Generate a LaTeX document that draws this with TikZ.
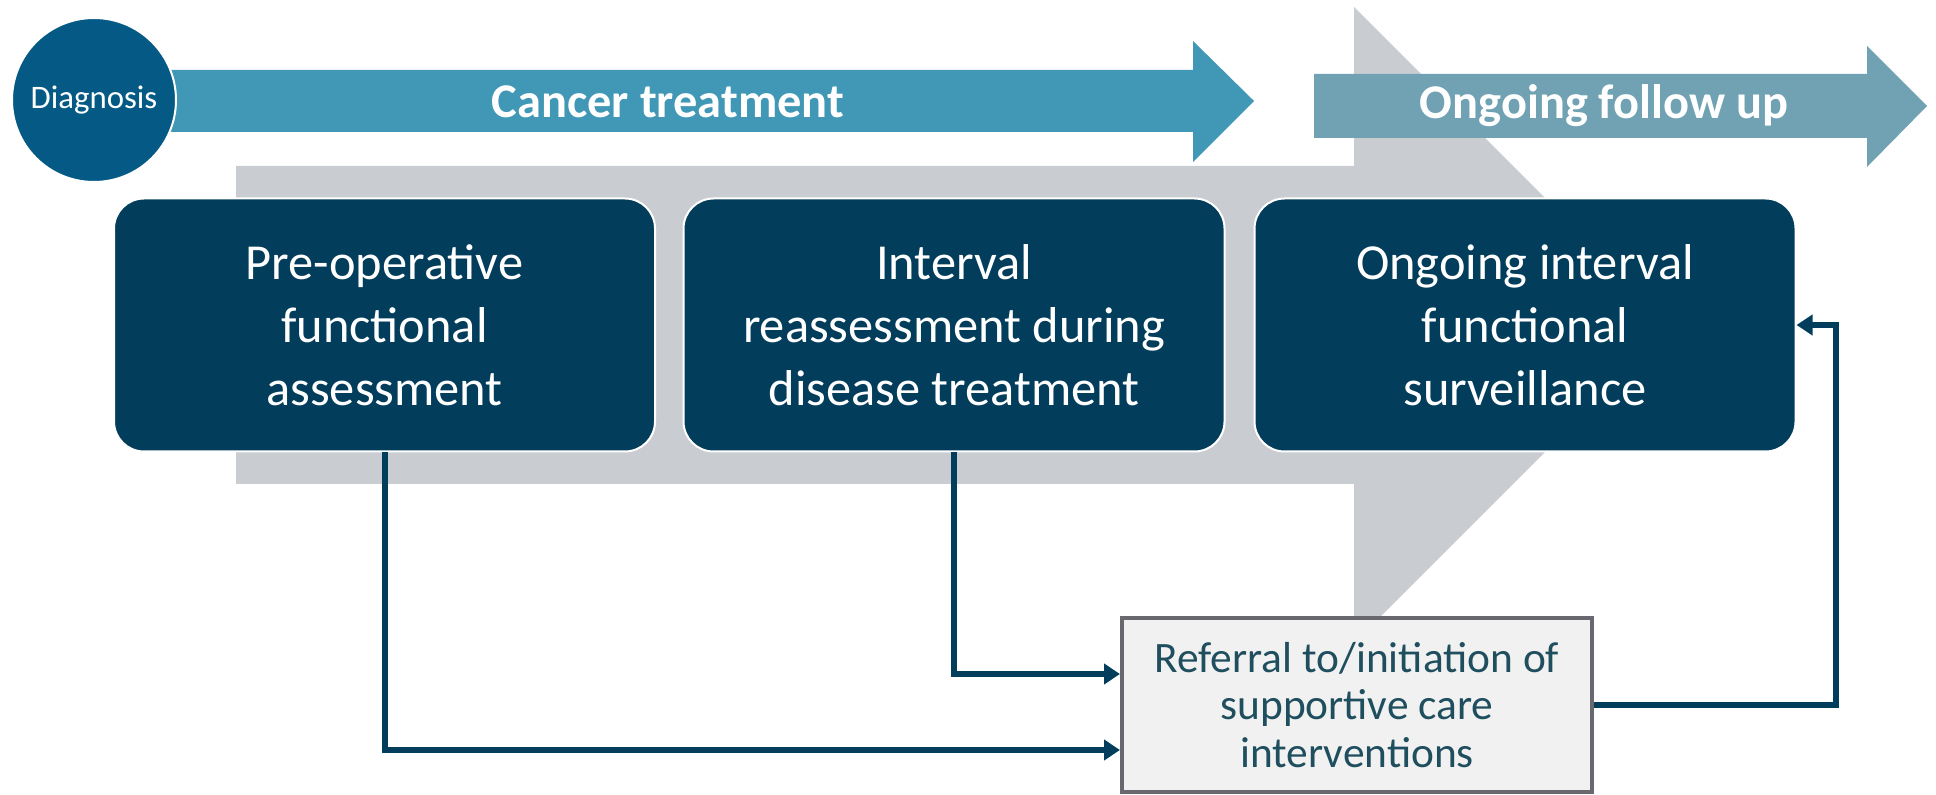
\documentclass[tikz,border=0pt]{standalone}
\usepackage{fontspec}
\setmainfont{Carlito}
\usetikzlibrary{arrows.meta,calc}
\definecolor{grayarrow}{HTML}{C9CDD2}
\definecolor{cancerblue}{HTML}{4197B6}
\definecolor{followblue}{HTML}{70A2B4}
\definecolor{diagblue}{HTML}{045A85}
\definecolor{boxblue}{HTML}{023D5C}
\definecolor{refborder}{HTML}{68686E}
\definecolor{reffill}{HTML}{F1F1F1}
\definecolor{reftext}{HTML}{1F4E5E}
\begin{document}
\begin{tikzpicture}[x=0.5pt,y=-0.5pt,
  stagebox/.style={rectangle, rounded corners=15pt, fill=boxblue, draw=white, line width=1pt,
    minimum width=270.5pt, minimum height=126.5pt, inner sep=0pt, align=center, text=white,
    font=\fontsize{25.2}{31.5}\selectfont},
  refbox/.style={rectangle, fill=reffill, draw=refborder, line width=2pt,
    minimum width=235pt, minimum height=87pt, inner sep=0pt, align=center, text=reftext,
    font=\fontsize{21.7}{23.75}\selectfont},
  phasetext/.style={text=white, font=\fontsize{24.2}{29}\selectfont\bfseries, inner sep=0pt},
  conn/.style={draw=boxblue, line width=3pt, line join=miter, -{Triangle[length=8pt,width=10pt]}}
]
\useasboundingbox (0,0) rectangle (1936,795);
% big gray background arrow
\fill[grayarrow] (236,166) -- (1354,166) -- (1354,7) -- (1672,325) -- (1354,643) -- (1354,484) -- (236,484) -- cycle;
% ongoing follow up arrow
\fill[followblue] (1314,74) -- (1867,74) -- (1867,46) -- (1927,106) -- (1867,167) -- (1867,138) -- (1314,138) -- cycle;
\node[phasetext] (follow) at (1604,106) {Ongoing follow up};
% cancer treatment arrow
\fill[cancerblue] (94,70) -- (1193,70) -- (1193,41) -- (1254,101) -- (1193,162) -- (1193,132) -- (94,132) -- cycle;
\node[phasetext] (cancer) at (668,102) {Cancer treatment};
% diagnosis
\node[circle, fill=diagblue, draw=white, line width=1pt, minimum size=82pt, inner sep=0pt,
  text=white, font=\fontsize{16.4}{19}\selectfont] (diag) at (94,100) {Diagnosis};
% stage boxes
\node[stagebox] (b1) at (384.5,325) {Pre-operative\\functional\\assessment};
\node[stagebox] (b2) at (954,325) {Interval\\reassessment during\\disease treatment};
\node[stagebox] (b3) at (1525,325) {Ongoing interval\\functional\\surveillance};
% referral box
\node[refbox] (ref) at (1357,705) {Referral to/initiation of\\supportive care\\interventions};
% connectors
\draw[conn] (b1.south) |- ([yshift=-22.5pt]ref.west);
\draw[conn] (b2.south) |- ([yshift=15.5pt]ref.west);
\draw[conn] (ref.east) -| ([xshift=19.5pt]b3.east) -- (b3.east);
\end{tikzpicture}
\end{document}
